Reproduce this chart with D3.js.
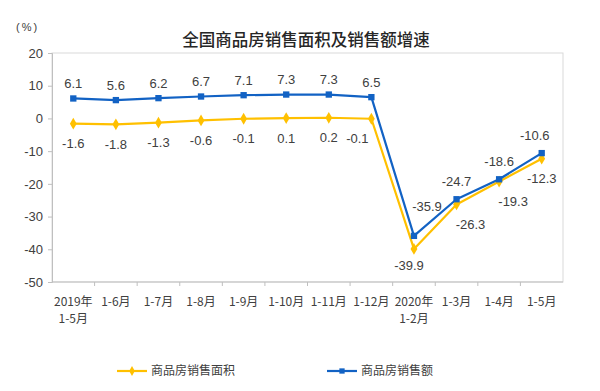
<!DOCTYPE html>
<html>
<head>
<meta charset="utf-8">
<script src="https://cdn.jsdelivr.net/npm/d3@7"></script>
<style>
  html, body { margin: 0; padding: 0; background: #fff; }
  svg text { font-family: "Liberation Sans", Arial, sans-serif; }
  .cjk { font-family: "Noto Sans CJK SC", sans-serif; }
</style>
</head>
<body>
<div id="chart"></div>
<script>
const categories = ['2019年\n1-5月', '1-6月', '1-7月', '1-8月', '1-9月', '1-10月', '1-11月', '1-12月', '2020年\n1-2月', '1-3月', '1-4月', '1-5月'];
const areaGrowth = [-1.6, -1.8, -1.3, -0.6, -0.1, 0.1, 0.2, -0.1, -39.9, -26.3, -19.3, -12.3];
const salesGrowth = [6.1, 5.6, 6.2, 6.7, 7.1, 7.3, 7.3, 6.5, -35.9, -24.7, -18.6, -10.6];
const yTicks = [20, 10, 0, -10, -20, -30, -40, -50];
const seriesNames = ['商品房销售面积', '商品房销售额'];

const W = 600, H = 391;
const margin = { top: 53, right: 37, bottom: 109, left: 52 };
const w = W - margin.left - margin.right;
const h = H - margin.top - margin.bottom;

const YELLOW = '#ffc000';
const BLUE = '#1262c4';
const TEXT = '#404040';

const svg = d3.select('#chart').append('svg').attr('width', W).attr('height', H);
const g = svg.append('g').attr('transform', `translate(${margin.left},${margin.top})`);

const x = d3.scaleBand().domain(categories).range([0, w]);
const y = d3.scaleLinear().domain([-50, 20]).range([h, 0]);
const cx = d => x(d) + x.bandwidth() / 2;
// plain hyphen for negatives, as in the original
const fmt = d => d.toFixed(1);

// plot frame
g.append('rect').attr('x', 0).attr('y', 0).attr('width', w).attr('height', h)
  .attr('fill', 'none').attr('stroke', '#d9d9d9');

// y axis
const yAxis = g.append('g').call(d3.axisLeft(y).tickValues(yTicks).tickFormat(d => String(d)).tickSize(4).tickPadding(5));
yAxis.select('.domain').attr('stroke', '#bfbfbf');
yAxis.selectAll('.tick line').attr('stroke', '#bfbfbf');
yAxis.selectAll('.tick text').attr('font-size', 13).attr('fill', TEXT);

// x axis: ticks at category boundaries
const xa = g.append('g').attr('transform', `translate(0,${h})`);
xa.append('line').attr('x1', 0).attr('x2', w).attr('stroke', '#bfbfbf');
xa.selectAll('line.tk').data(categories.slice(1)).enter().append('line')
  .attr('class', 'tk')
  .attr('x1', d => x(d)).attr('x2', d => x(d))
  .attr('y1', 0).attr('y2', 4)
  .attr('stroke', '#bfbfbf');
xa.selectAll('text.cat').data(categories).enter().append('text')
  .attr('class', 'cat cjk')
  .attr('text-anchor', 'middle')
  .attr('font-size', 12)
  .attr('fill', TEXT)
  .each(function (d) {
    const t = d3.select(this);
    d.split('\n').forEach((s, i) => {
      t.append('tspan').attr('x', cx(d)).attr('y', 24 + i * 17).text(s);
    });
  });

// lines
const line = vals => d3.line().x((d, i) => cx(categories[i])).y(d => y(d))(vals);
g.append('path').attr('d', line(areaGrowth)).attr('fill', 'none')
  .attr('stroke', YELLOW).attr('stroke-width', 2.2).attr('stroke-linejoin', 'round');
g.append('path').attr('d', line(salesGrowth)).attr('fill', 'none')
  .attr('stroke', BLUE).attr('stroke-width', 2.2).attr('stroke-linejoin', 'round');

// markers
const diamond = d3.symbol().type(d3.symbolDiamond).size(40);
const square = d3.symbol().type(d3.symbolSquare).size(40);
g.selectAll('path.ym').data(areaGrowth).enter().append('path')
  .attr('class', 'ym').attr('d', diamond)
  .attr('transform', (d, i) => `translate(${cx(categories[i])},${y(d)})`)
  .attr('fill', YELLOW);
g.selectAll('path.bm').data(salesGrowth).enter().append('path')
  .attr('class', 'bm').attr('d', square)
  .attr('transform', (d, i) => `translate(${cx(categories[i])},${y(d)})`)
  .attr('fill', BLUE);

// data labels: blue above, yellow below; tweak around the drop
g.selectAll('text.bl').data(salesGrowth).enter().append('text')
  .attr('class', 'bl')
  .attr('x', (d, i) => cx(categories[i]) + (i === 8 ? 13 : i === 11 ? -7 : 0))
  .attr('y', (d, i) => y(d) + (i === 8 ? -29 : i > 8 ? -18 : -15))
  .attr('text-anchor', 'middle').attr('dy', '0.35em')
  .attr('font-size', 13).attr('fill', TEXT)
  .text(d => fmt(d));
g.selectAll('text.yl').data(areaGrowth).enter().append('text')
  .attr('class', 'yl')
  .attr('x', (d, i) => cx(categories[i]) + (i === 8 ? -5 : (i === 9 || i === 10) ? 14 : i === 7 ? -14 : 0))
  .attr('y', (d, i) => y(d) + (i === 8 ? 16 : 20))
  .attr('text-anchor', 'middle').attr('dy', '0.35em')
  .attr('font-size', 13).attr('fill', TEXT)
  .text(d => fmt(d));

// title and unit
svg.append('text').attr('class', 'cjk').attr('x', 306).attr('y', 46)
  .attr('text-anchor', 'middle').attr('font-size', 16.5).attr('font-weight', 500)
  .attr('fill', '#262626').text('全国商品房销售面积及销售额增速');
svg.append('text').attr('x', 16).attr('y', 31)
  .attr('font-size', 11).attr('letter-spacing', 2).attr('fill', TEXT).text('(%)');

// legend
const legend = svg.append('g');
const legendItems = [
  { name: seriesNames[0], color: YELLOW, sym: d3.symbol().type(d3.symbolDiamond).size(28), x: 117 },
  { name: seriesNames[1], color: BLUE, sym: d3.symbol().type(d3.symbolSquare).size(28), x: 327 }
];
legendItems.forEach(d => {
  const lg = legend.append('g').attr('transform', `translate(${d.x},371)`);
  lg.append('line').attr('x1', 0).attr('x2', 30).attr('stroke', d.color).attr('stroke-width', 2.2);
  lg.append('path').attr('d', d.sym).attr('transform', 'translate(15,0)').attr('fill', d.color);
  lg.append('text').attr('class', 'cjk').attr('x', 34).attr('dy', '0.35em')
    .attr('font-size', 12).attr('fill', TEXT).text(d.name);
});
</script>
</body>
</html>
